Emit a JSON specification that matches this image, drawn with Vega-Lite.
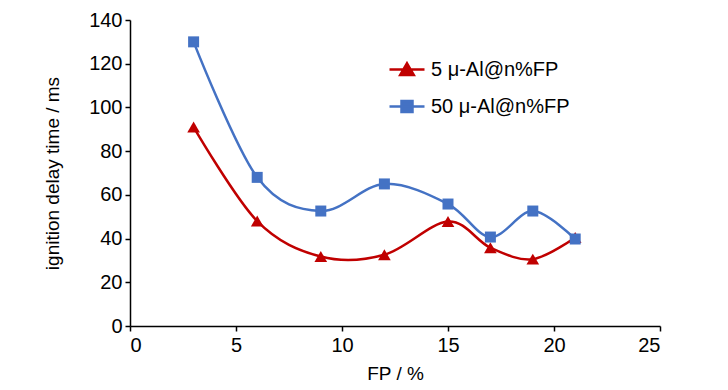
{
  "$schema": "https://vega.github.io/schema/vega-lite/v6.json",
  "width": 530,
  "height": 306,
  "autosize": {"type": "none"},
  "padding": {"left": 130, "top": 20, "right": 68, "bottom": 64},
  "background": "white",
  "config": {
    "view": {"stroke": null},
    "font": "Liberation Sans",
    "axis": {
      "grid": false,
      "domainColor": "black",
      "domainWidth": 1.5,
      "tickColor": "black",
      "tickWidth": 1.5,
      "tickSize": 5,
      "labelColor": "black",
      "labelFontSize": 20,
      "labelFont": "Liberation Sans",
      "titleColor": "black",
      "titleFontSize": 19,
      "titleFontWeight": "normal",
      "titleFont": "Liberation Sans"
    }
  },
  "data": {
    "values": [
      {"fp": 3, "t": 91, "series": "5 μ-Al@n%FP"},
      {"fp": 6, "t": 48, "series": "5 μ-Al@n%FP"},
      {"fp": 9, "t": 31.8, "series": "5 μ-Al@n%FP"},
      {"fp": 12, "t": 32.6, "series": "5 μ-Al@n%FP"},
      {"fp": 15, "t": 47.8, "series": "5 μ-Al@n%FP"},
      {"fp": 17, "t": 35.8, "series": "5 μ-Al@n%FP"},
      {"fp": 19, "t": 30.6, "series": "5 μ-Al@n%FP"},
      {"fp": 21, "t": 40.5, "series": "5 μ-Al@n%FP"},
      {"fp": 3, "t": 130, "series": "50 μ-Al@n%FP"},
      {"fp": 6, "t": 68, "series": "50 μ-Al@n%FP"},
      {"fp": 9, "t": 52.6, "series": "50 μ-Al@n%FP"},
      {"fp": 12, "t": 65, "series": "50 μ-Al@n%FP"},
      {"fp": 15, "t": 55.8, "series": "50 μ-Al@n%FP"},
      {"fp": 17, "t": 40.7, "series": "50 μ-Al@n%FP"},
      {"fp": 19, "t": 52.6, "series": "50 μ-Al@n%FP"},
      {"fp": 21, "t": 39.8, "series": "50 μ-Al@n%FP"}
    ]
  },
  "encoding": {
    "x": {
      "field": "fp", "type": "quantitative",
      "scale": {"domain": [0, 25], "nice": false, "zero": true},
      "axis": {"values": [0, 5, 10, 15, 20, 25], "title": "FP / %", "titlePadding": 9, "labelPadding": 4}
    },
    "y": {
      "field": "t", "type": "quantitative",
      "scale": {"domain": [0, 140], "nice": false},
      "axis": {"values": [0, 20, 40, 60, 80, 100, 120, 140], "title": "ignition delay time / ms", "titlePadding": 26, "labelPadding": 3}
    }
  },
  "layer": [
    {
      "mark": {"type": "line", "interpolate": "cardinal", "strokeWidth": 2.5},
      "encoding": {
        "color": {
          "field": "series", "type": "nominal",
          "scale": {"domain": ["5 μ-Al@n%FP", "50 μ-Al@n%FP"], "range": ["#C00000", "#4472C4"]},
          "legend": {
            "title": null,
            "orient": "none",
            "legendX": 265.5,
            "legendY": 38,
            "symbolSize": 400,
            "symbolStrokeWidth": 2.5,
            "labelFontSize": 20,
            "labelColor": "black",
            "labelFont": "Liberation Sans",
            "labelOffset": 12.5,
            "rowPadding": 15,
            "padding": 0,
            "encode": {
              "symbols": {
                "update": {
                  "shape": {"signal": "datum.value == '5 μ-Al@n%FP' ? 'M-1.75,0H1.75M0,-0.62L0.68,0.55L-0.68,0.55Z' : 'M-1.75,0H1.75M-0.55,-0.55H0.55V0.55H-0.55Z'"},
                  "fill": {"signal": "datum.value == '5 μ-Al@n%FP' ? '#C00000' : '#4472C4'"},
                  "stroke": {"signal": "datum.value == '5 μ-Al@n%FP' ? '#C00000' : '#4472C4'"},
                  "strokeWidth": {"value": 2.5},
                  "opacity": {"value": 1}
                }
              }
            }
          }
        }
      }
    },
    {
      "transform": [{"filter": "datum.series == '5 μ-Al@n%FP'"}],
      "mark": {"type": "point", "filled": true, "opacity": 1, "shape": "triangle-up", "size": 160, "color": "#C00000"}
    },
    {
      "transform": [{"filter": "datum.series == '50 μ-Al@n%FP'"}],
      "mark": {"type": "point", "filled": true, "opacity": 1, "shape": "square", "size": 121, "color": "#4472C4"}
    }
  ]
}
